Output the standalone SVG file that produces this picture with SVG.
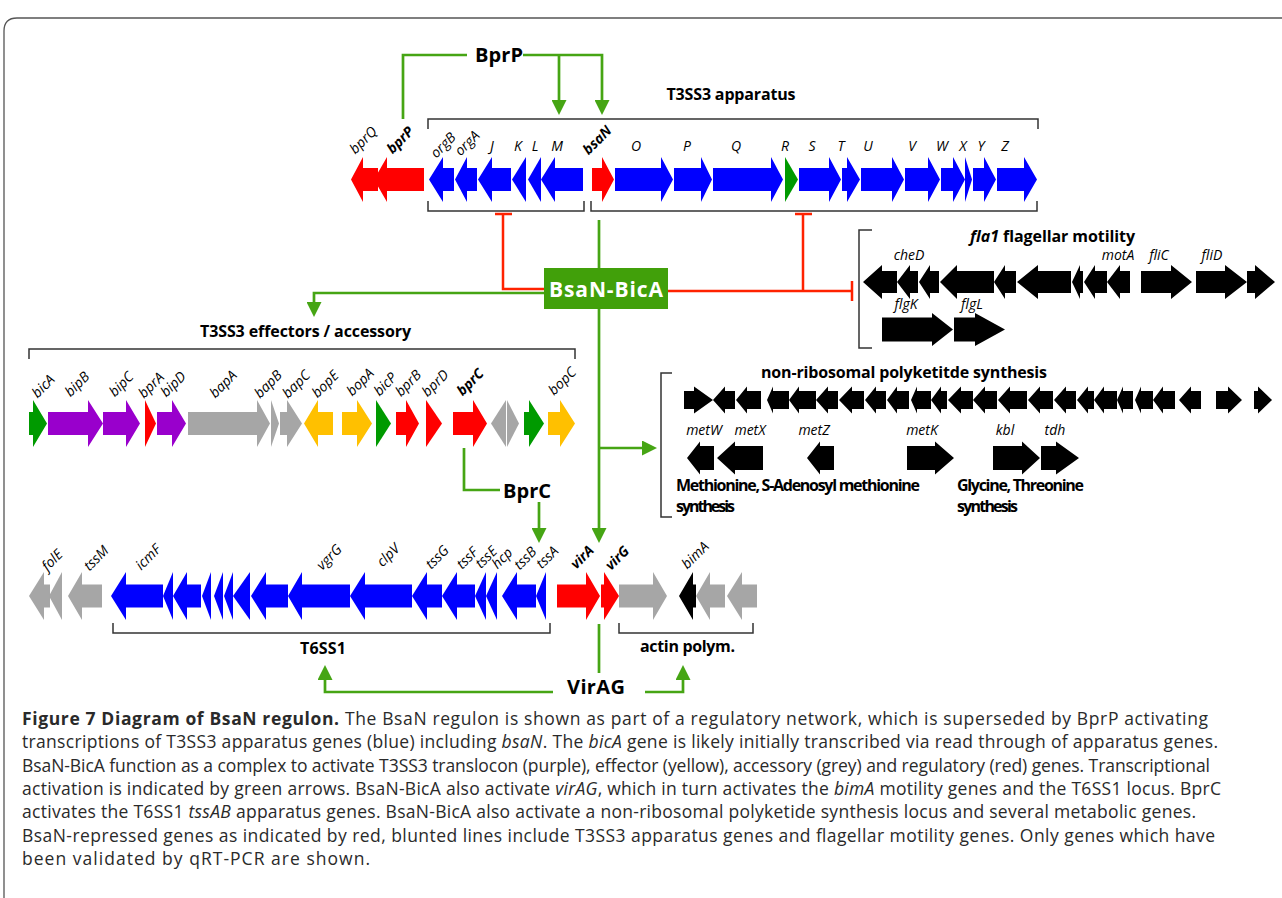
<svg xmlns="http://www.w3.org/2000/svg" width="1282" height="898" viewBox="0 0 1282 898">
<defs>
<style>
.blue{fill:#0000ff}.red{fill:#ff0000}.grn{fill:#009a00}.pur{fill:#9900cc}.gry{fill:#a6a6a6}.yel{fill:#ffc000}.blk{fill:#000}
.lbl{font-family:"Open Sans","Liberation Sans",sans-serif;font-style:italic;font-size:14px;fill:#000}
.lb{font-weight:bold}
.rl{text-anchor:middle}
.ttl{font-family:"Open Sans","Liberation Sans",sans-serif;font-weight:bold;font-size:16px;fill:#000}
.reg{font-family:"Open Sans","Liberation Sans",sans-serif;font-weight:bold;font-size:20px;fill:#000;text-anchor:middle}
.brk{fill:none;stroke:#333;stroke-width:1.5}
.act{fill:none;stroke:#46a514;stroke-width:2.7}
.inh{fill:none;stroke:#ff2200;stroke-width:2.5}
.cap{font-family:"Open Sans","Liberation Sans",sans-serif;font-size:17.5px;fill:#2a2a2a}
</style>
<marker id="ah" viewBox="0 0 15 15" refX="0" refY="7.5" markerWidth="15" markerHeight="15" markerUnits="userSpaceOnUse" orient="auto">
<path d="M0,0 L15,7.5 L0,15 z" fill="#46a514"/>
</marker>
</defs>
<rect width="1282" height="898" fill="#fff"/>
<path d="M4,898 V31 Q4,18 17,18 H1282" fill="none" stroke="#555" stroke-width="1.3"/>

<g id="bprPQ">
<polygon class="red" points="351,179.5 363,157 363,168 378,168 378,191 363,191 363,202"/>
<polygon class="red" points="374,179.5 387,157 387,168 424,168 424,191 387,191 387,202"/>
<text class="lbl rl" transform="translate(363,140) rotate(-45)" dy="5">bprQ</text>
<text class="lbl lb rl" transform="translate(400,140) rotate(-45)" dy="5">bprP</text>
</g>

<g id="t3ss3-apparatus">
<path class="brk" d="M428,129 V119 H1038 V129"/>
<path class="brk" d="M428,201 V211 H584 V201"/>
<path class="brk" d="M591,201 V211 H1037 V201"/>
<text class="ttl" x="731" y="100" text-anchor="middle" textLength="129">T3SS3 apparatus</text>
<polygon class="blue" points="429,179.5 443,157 443,168 454,168 454,191 443,191 443,202"/>
<polygon class="blue" points="455,179.5 467,157 467,168 477,168 477,191 467,191 467,202"/>
<polygon class="blue" points="478,179.5 492,157 492,168 511,168 511,191 492,191 492,202"/>
<polygon class="blue" points="512,179.5 526,157 526,202"/>
<polygon class="blue" points="528,179.5 541,157 541,202"/>
<polygon class="blue" points="541,179.5 555,157 555,168 583,168 583,191 555,191 555,202"/>
<polygon class="red" points="592,168 602,168 602,157 614,179.5 602,202 602,191 592,191"/>
<polygon class="blue" points="615,168 661,168 661,157 673,179.5 661,202 661,191 615,191"/>
<polygon class="blue" points="674,168 701,168 701,157 712,179.5 701,202 701,191 674,191"/>
<polygon class="blue" points="713,168 771,168 771,157 783,179.5 771,202 771,191 713,191"/>
<polygon class="grn" points="785,157 798,179.5 785,202"/>
<polygon class="blue" points="799,168 829,168 829,157 841,179.5 829,202 829,191 799,191"/>
<polygon class="blue" points="842,168 847,168 847,157 860,179.5 847,202 847,191 842,191"/>
<polygon class="blue" points="861,168 892,168 892,157 904,179.5 892,202 892,191 861,191"/>
<polygon class="blue" points="905,168 928,168 928,157 940,179.5 928,202 928,191 905,191"/>
<polygon class="blue" points="941,168 953,168 953,157 965,179.5 953,202 953,191 941,191"/>
<polygon class="blue" points="965,157 972,179.5 965,202"/>
<polygon class="blue" points="973,168 984,168 984,157 996,179.5 984,202 984,191 973,191"/>
<polygon class="blue" points="997,168 1024,168 1024,157 1037,179.5 1024,202 1024,191 997,191"/>
<text class="lbl rl" transform="translate(443,145) rotate(-45)" dy="5">orgB</text>
<text class="lbl rl" transform="translate(467,143) rotate(-45)" dy="5">orgA</text>
<text class="lbl lb rl" transform="translate(597,140) rotate(-45)" dy="5">bsaN</text>
<g class="lbl rl">
<text x="492" y="151">J</text><text x="518" y="151">K</text><text x="535" y="151">L</text><text x="557" y="151">M</text>
<text x="636" y="151">O</text><text x="687" y="151">P</text><text x="736" y="151">Q</text><text x="785" y="151">R</text>
<text x="812" y="151">S</text><text x="841" y="151">T</text><text x="868" y="151">U</text><text x="912" y="151">V</text>
<text x="942" y="151">W</text><text x="963" y="151">X</text><text x="981" y="151">Y</text><text x="1005" y="151">Z</text>
</g>
</g>

<g id="BprP"><text class="reg" x="499" y="62" textLength="48">BprP</text></g>

<g id="BsaN-BicA">
<rect x="544" y="268" width="124" height="41" fill="#41a00a"/>
<text x="606" y="297" text-anchor="middle" textLength="114" font-family="Open Sans, Liberation Sans, sans-serif" font-weight="bold" font-size="21" fill="#fff">BsaN-BicA</text>
</g>

<g id="effectors">
<path class="brk" d="M29,359 V349 H575 V359"/>
<text class="ttl" x="200" y="337" textLength="211">T3SS3 effectors / accessory</text>
<polygon class="grn" points="29,412 33,412 33,400 47,423.5 33,447 33,435 29,435"/>
<polygon class="pur" points="48,412 88,412 88,400 103,423.5 88,447 88,435 48,435"/>
<polygon class="pur" points="103,412 126,412 126,400 140,423.5 126,447 126,435 103,435"/>
<polygon class="red" points="145,400 156,423.5 145,447"/>
<polygon class="pur" points="157,412 172,412 172,400 186,423.5 172,447 172,435 157,435"/>
<polygon class="gry" points="188,412 257,412 257,400 270,423.5 257,447 257,435 188,435"/>
<polygon class="gry" points="271,400 279,423.5 271,447"/>
<polygon class="gry" points="280,412 287,412 287,400 302,423.5 287,447 287,435 280,435"/>
<polygon class="yel" points="304,423.5 318,400 318,412 333,412 333,435 318,435 318,447"/>
<polygon class="yel" points="342,412 357,412 357,400 372,423.5 357,447 357,435 342,435"/>
<polygon class="grn" points="376,400 391,423.5 376,447"/>
<polygon class="red" points="396,412 406,412 406,400 419,423.5 406,447 406,435 396,435"/>
<polygon class="red" points="426,400 442,423.5 426,447"/>
<polygon class="red" points="453,412 473,412 473,400 487,423.5 473,447 473,435 453,435"/>
<polygon class="gry" points="491,423.5 506,400 506,447"/>
<polygon class="gry" points="507,400 519,423.5 507,447"/>
<polygon class="grn" points="524,412 529,412 529,400 544,423.5 529,447 529,435 524,435"/>
<polygon class="yel" points="548,412 560,412 560,400 575,423.5 560,447 560,435 548,435"/>
<text class="lbl rl" transform="translate(43,386) rotate(-45)" dy="5">bicA</text>
<text class="lbl rl" transform="translate(77,384) rotate(-45)" dy="5">bipB</text>
<text class="lbl rl" transform="translate(121,384) rotate(-45)" dy="5">bipC</text>
<text class="lbl rl" transform="translate(151,385) rotate(-45)" dy="5">bprA</text>
<text class="lbl rl" transform="translate(173,384) rotate(-45)" dy="5">bipD</text>
<text class="lbl rl" transform="translate(223,384) rotate(-45)" dy="5">bapA</text>
<text class="lbl rl" transform="translate(268,384) rotate(-45)" dy="5">bapB</text>
<text class="lbl rl" transform="translate(296,384) rotate(-45)" dy="5">bapC</text>
<text class="lbl rl" transform="translate(325,384) rotate(-45)" dy="5">bopE</text>
<text class="lbl rl" transform="translate(360,382) rotate(-45)" dy="5">bopA</text>
<text class="lbl rl" transform="translate(385,384) rotate(-45)" dy="5">bicP</text>
<text class="lbl rl" transform="translate(408,383) rotate(-45)" dy="5">bprB</text>
<text class="lbl rl" transform="translate(435,383) rotate(-45)" dy="5">bprD</text>
<text class="lbl lb rl" transform="translate(470,382) rotate(-45)" dy="5">bprC</text>
<text class="lbl rl" transform="translate(562,381) rotate(-45)" dy="5">bopC</text>
</g>

<g id="flagella">
<path class="brk" d="M872,230 H859 V348 H872"/>
<text class="ttl" x="970" y="242" font-size="15" textLength="165"><tspan font-style="italic">fla1</tspan> flagellar motility</text>
<g class="blk">
<polygon points="863,282 882,265 882,271 897,271 897,293 882,293 882,299"/>
<polygon points="897,282 910,265 910,271 918,271 918,293 910,293 910,299"/>
<polygon points="919,282 930,265 930,271 939,271 939,293 930,293 930,299"/>
<polygon points="940,282 957,265 957,271 994,271 994,293 957,293 957,299"/>
<polygon points="994,282 1005,265 1005,271 1016,271 1016,293 1005,293 1005,299"/>
<polygon points="1017,282 1038,265 1038,271 1071,271 1071,293 1038,293 1038,299"/>
<polygon points="1072,282 1080,265 1080,271 1083,271 1083,293 1080,293 1080,299"/>
<polygon points="1084,282 1095,265 1095,271 1107,271 1107,293 1095,293 1095,299"/>
<polygon points="1107,282 1120,265 1120,271 1130,271 1130,293 1120,293 1120,299"/>
<polygon points="1141,271 1171,271 1171,265 1192,282 1171,299 1171,293 1141,293"/>
<polygon points="1196,271 1225,271 1225,265 1247,282 1225,299 1225,293 1196,293"/>
<polygon points="1247,271 1255,271 1255,265 1275,282 1255,299 1255,293 1247,293"/>
<polygon points="882,317.5 932,317.5 932,313 953,329.5 932,346 932,341.5 882,341.5"/>
<polygon points="954,317.5 975,317.5 975,313 1005,329.5 975,346 975,341.5 954,341.5"/>
</g>
<g class="lbl rl">
<text x="909" y="260">cheD</text><text x="1118" y="260">motA</text><text x="1159" y="260">fliC</text><text x="1212" y="260">fliD</text>
<text x="906" y="309">flgK</text><text x="972" y="309">flgL</text>
</g>
</g>

<g id="nrps">
<path class="brk" d="M672,373 H661 V517 H672"/>
<text class="ttl" x="761" y="378" textLength="286">non-ribosomal polyketitde synthesis</text>
<g class="blk">
<polygon points="684,391 694,391 694,386.5 713,400 694,413.5 694,409 684,409"/>
<polygon points="713,400 725,386.5 725,391 735,391 735,409 725,409 725,413.5"/>
<polygon points="736,400 747,386.5 747,391 761,391 761,409 747,409 747,413.5"/>
<polygon points="767,400 773,386.5 773,391 789,391 789,409 773,409 773,413.5"/>
<polygon points="789,400 799,386.5 799,391 816,391 816,409 799,409 799,413.5"/>
<polygon points="816,400 828,386.5 828,391 838,391 838,409 828,409 828,413.5"/>
<polygon points="839,400 852,386.5 852,391 864,391 864,409 852,409 852,413.5"/>
<polygon points="865,400 876,386.5 876,391 886,391 886,409 876,409 876,413.5"/>
<polygon points="887,400 897,386.5 897,391 909,391 909,409 897,409 897,413.5"/>
<polygon points="911,400 917,386.5 917,391 931,391 931,409 917,409 917,413.5"/>
<polygon points="931,400 941,386.5 941,391 947,391 947,409 941,409 941,413.5"/>
<polygon points="948,400 961,386.5 961,391 973,391 973,409 961,409 961,413.5"/>
<polygon points="973,400 985,386.5 985,391 997,391 997,409 985,409 985,413.5"/>
<polygon points="998,400 1010,386.5 1010,391 1027,391 1027,409 1010,409 1010,413.5"/>
<polygon points="1028,400 1040,386.5 1040,391 1053,391 1053,409 1040,409 1040,413.5"/>
<polygon points="1054,400 1066,386.5 1066,391 1076,391 1076,409 1066,409 1066,413.5"/>
<polygon points="1077,400 1088,386.5 1088,391 1094,391 1094,409 1088,409 1088,413.5"/>
<polygon points="1094,400 1104,386.5 1104,391 1117,391 1117,409 1104,409 1104,413.5"/>
<polygon points="1117,400 1123,386.5 1123,391 1133,391 1133,409 1123,409 1123,413.5"/>
<polygon points="1135,400 1141,386.5 1141,391 1153,391 1153,409 1141,409 1141,413.5"/>
<polygon points="1153,400 1163,386.5 1163,391 1175,391 1175,409 1163,409 1163,413.5"/>
<polygon points="1179,400 1191,386.5 1191,391 1201,391 1201,409 1191,409 1191,413.5"/>
<polygon points="1216,391 1228,391 1228,386.5 1242,400 1228,413.5 1228,409 1216,409"/>
<polygon points="1254,391 1258,391 1258,386.5 1272,400 1258,413.5 1258,409 1254,409"/>
</g>
</g>

<g id="metabolic">
<g class="blk">
<polygon points="687,458 700,441.5 700,446 714,446 714,470 700,470 700,474.5"/>
<polygon points="717,458 735,441.5 735,446 763,446 763,470 735,470 735,474.5"/>
<polygon points="807,458 820,441.5 820,446 834,446 834,470 820,470 820,474.5"/>
<polygon points="907,446 935,446 935,441.5 954,458 935,474.5 935,470 907,470"/>
<polygon points="993,446 1022,446 1022,441.5 1040,458 1022,474.5 1022,470 993,470"/>
<polygon points="1041,446 1056,446 1056,441.5 1079,458 1056,474.5 1056,470 1041,470"/>
</g>
<g class="lbl rl">
<text x="704" y="435">metW</text><text x="750" y="435">metX</text><text x="814" y="435">metZ</text>
<text x="922" y="435">metK</text><text x="1005" y="435">kbl</text><text x="1055" y="435">tdh</text>
</g>
<text class="ttl" x="676" y="491" font-size="13.5" textLength="244">Methionine, S-Adenosyl methionine</text>
<text class="ttl" x="676" y="512" font-size="13.5" textLength="59">synthesis</text>
<text class="ttl" x="957" y="491" font-size="13.5" textLength="127">Glycine, Threonine</text>
<text class="ttl" x="957" y="512" font-size="13.5" textLength="61">synthesis</text>
</g>

<g id="BprC"><text class="reg" x="527" y="498" textLength="48">BprC</text></g>

<g id="t6ss1">
<path class="brk" d="M113,623 V633 H550 V623"/>
<text class="ttl" x="323" y="654" text-anchor="middle" textLength="46">T6SS1</text>
<polygon class="gry" points="29,596 44,572 44,584.5 50,584.5 50,607.5 44,607.5 44,620"/>
<polygon class="gry" points="49,596 62,572 62,620"/>
<polygon class="gry" points="68,596 82,572 82,584.5 102,584.5 102,607.5 82,607.5 82,620"/>
<g class="blue">
<polygon points="111,596 126,572 126,584.5 163,584.5 163,607.5 126,607.5 126,620"/>
<polygon points="163,596 173,572 173,620"/>
<polygon points="173,596 187,572 187,584.5 201,584.5 201,607.5 187,607.5 187,620"/>
<polygon points="202,596 211,572 211,620"/>
<polygon points="214,596 223,572 223,620"/>
<polygon points="224,596 233,572 233,620"/>
<polygon points="233,596 250,572 250,620"/>
<polygon points="251,596 266,572 266,584.5 288,584.5 288,607.5 266,607.5 266,620"/>
<polygon points="288,596 302,572 302,584.5 350,584.5 350,607.5 302,607.5 302,620"/>
<polygon points="350,596 365,572 365,584.5 412,584.5 412,607.5 365,607.5 365,620"/>
<polygon points="412,596 427,572 427,584.5 442,584.5 442,607.5 427,607.5 427,620"/>
<polygon points="442,596 457,572 457,584.5 475,584.5 475,607.5 457,607.5 457,620"/>
<polygon points="475,596 486,572 486,620"/>
<polygon points="486,596 497,572 497,620"/>
<polygon points="502,596 517,572 517,584.5 536,584.5 536,607.5 517,607.5 517,620"/>
<polygon points="536,596 546,572 546,620"/>
</g>
<text class="lbl rl" transform="translate(52,560) rotate(-45)" dy="5">folE</text>
<text class="lbl rl" transform="translate(96,558) rotate(-45)" dy="5">tssM</text>
<text class="lbl rl" transform="translate(148,557) rotate(-45)" dy="5">icmF</text>
<text class="lbl rl" transform="translate(329,557) rotate(-45)" dy="5">vgrG</text>
<text class="lbl rl" transform="translate(388,555) rotate(-45)" dy="5">clpV</text>
<text class="lbl rl" transform="translate(437,557) rotate(-45)" dy="5">tssG</text>
<text class="lbl rl" transform="translate(467,558) rotate(-45)" dy="5">tssF</text>
<text class="lbl rl" transform="translate(486,557) rotate(-45)" dy="5">tssE</text>
<text class="lbl rl" transform="translate(502,558) rotate(-45)" dy="5">hcp</text>
<text class="lbl rl" transform="translate(525,558) rotate(-45)" dy="5">tssB</text>
<text class="lbl rl" transform="translate(547,557) rotate(-45)" dy="5">tssA</text>
</g>

<g id="virAG-genes">
<polygon class="red" points="557,584.5 586,584.5 586,572 600,596 586,620 586,607.5 557,607.5"/>
<polygon class="red" points="601,584.5 604,584.5 604,572 619,596 604,620 604,607.5 601,607.5"/>
<text class="lbl lb rl" transform="translate(582,557) rotate(-45)" dy="5">virA</text>
<text class="lbl lb rl" transform="translate(617,558) rotate(-45)" dy="5">virG</text>
</g>

<g id="actin">
<path class="brk" d="M619,623 V633 H753 V623"/>
<text class="ttl" x="640" y="652" textLength="95">actin polym.</text>
<polygon class="gry" points="619,584.5 653,584.5 653,572 667,596 653,620 653,607.5 619,607.5"/>
<polygon class="blk" points="679,596 693,572 693,584.5 696,584.5 696,607.5 693,607.5 693,620"/>
<polygon class="gry" points="696,596 710,572 710,584.5 725,584.5 725,607.5 710,607.5 710,620"/>
<polygon class="gry" points="727,596 742,572 742,584.5 757,584.5 757,607.5 742,607.5 742,620"/>
<text class="lbl rl" transform="translate(695,555) rotate(-45)" dy="5">bimA</text>
</g>

<g id="VirAG"><text class="reg" x="596" y="694" textLength="58">VirAG</text></g>

<g id="connectors">
<path class="act" d="M467,55 H403 V119"/>
<path class="act" d="M523,55 H602 V100" marker-end="url(#ah)"/>
<path class="act" d="M559,55 V100" marker-end="url(#ah)"/>
<path class="act" d="M599,220 V268"/>
<path class="act" d="M544,293 H314 V302" marker-end="url(#ah)"/>
<path class="act" d="M599,309 V528" marker-end="url(#ah)"/>
<path class="act" d="M599,448 H642" marker-end="url(#ah)"/>
<path class="act" d="M464,448 V490 H500"/>
<path class="act" d="M539,502 V528" marker-end="url(#ah)"/>
<path class="act" d="M599,624 V673"/>
<path class="act" d="M553,692 H325 V680" marker-end="url(#ah)"/>
<path class="act" d="M645,692 H683 V680" marker-end="url(#ah)"/>
<path class="inh" d="M544,289 H503 V214 M495,214 H512"/>
<path class="inh" d="M668,291 H852 M852,281 V301"/>
<path class="inh" d="M803,291 V214 M795,214 H812"/>
</g>

<g id="caption" class="cap">
<text x="22" y="725" textLength="1186"><tspan font-weight="bold">Figure 7 Diagram of BsaN regulon.</tspan> The BsaN regulon is shown as part of a regulatory network, which is superseded by BprP activating</text>
<text x="22" y="748" textLength="1196">transcriptions of T3SS3 apparatus genes (blue) including <tspan font-style="italic">bsaN</tspan>. The <tspan font-style="italic">bicA</tspan> gene is likely initially transcribed via read through of apparatus genes.</text>
<text x="22" y="772" textLength="1188">BsaN-BicA function as a complex to activate T3SS3 translocon (purple), effector (yellow), accessory (grey) and regulatory (red) genes. Transcriptional</text>
<text x="22" y="795" textLength="1199">activation is indicated by green arrows. BsaN-BicA also activate <tspan font-style="italic">virAG</tspan>, which in turn activates the <tspan font-style="italic">bimA</tspan> motility genes and the T6SS1 locus. BprC</text>
<text x="22" y="818" textLength="1174">activates the T6SS1 <tspan font-style="italic">tssAB</tspan> apparatus genes. BsaN-BicA also activate a non-ribosomal polyketide synthesis locus and several metabolic genes.</text>
<text x="22" y="842" textLength="1193">BsaN-repressed genes as indicated by red, blunted lines include T3SS3 apparatus genes and flagellar motility genes. Only genes which have</text>
<text x="22" y="865" textLength="348">been validated by qRT-PCR are shown.</text>
</g>
</svg>
